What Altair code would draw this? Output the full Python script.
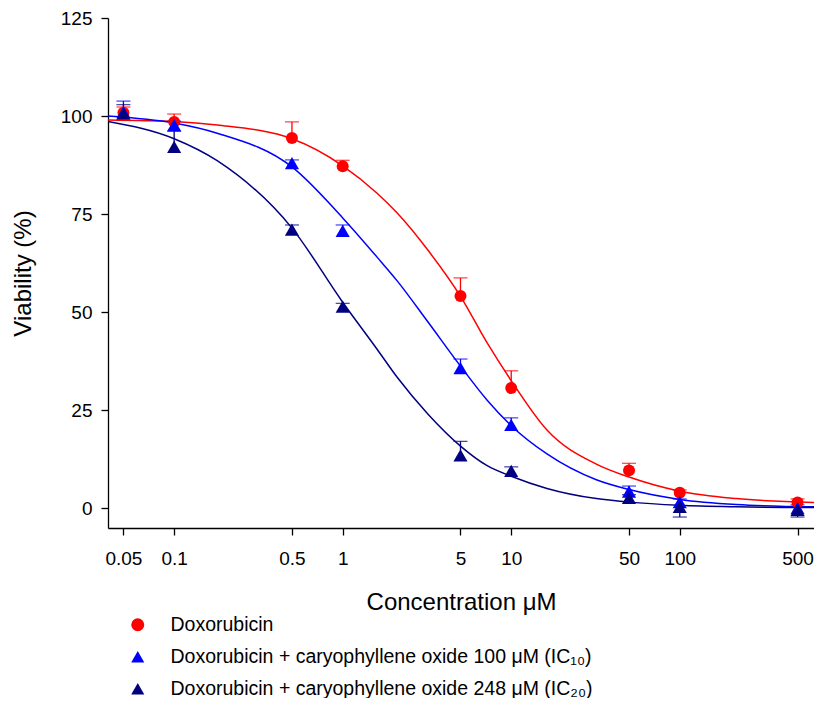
import altair as alt
import pandas as pd

# ---------------- data ----------------
series_names = [
    "Doxorubicin",
    "Doxorubicin + caryophyllene oxide 100 μM (IC₁₀)",
    "Doxorubicin + caryophyllene oxide 248 μM (IC₂₀)",
]

conc = [0.05, 0.1, 0.5, 1, 5, 10, 50, 100, 500]

dox_mean = [100.8, 98.5, 94.4, 87.2, 54.1, 30.6, 9.6, 3.9, 1.4]
dox_err = [1.5, 2.0, 4.1, 1.5, 4.6, 4.4, 1.8, 0.7, 0.9]

ic10_mean = [101.0, 97.7, 88.0, 70.7, 35.7, 21.2, 4.2, 1.5, 0.0]
ic10_err = [2.8, 1.0, 0.8, 1.5, 2.3, 1.8, 1.4, 0.8, 0.8]

ic20_mean = [100.6, 92.1, 71.0, 51.4, 13.4, 9.5, 2.6, 0.3, -0.5]
ic20_err = [2.3, 4.0, 1.2, 0.8, 3.6, 1.0, 0.8, -2.6, -1.8]

# fitted curves at these concentrations
fit_conc = [0.0405, 0.1, 0.18, 0.5, 1, 1.6, 2.1, 3.2, 5, 7.2, 10, 16.3, 32, 50, 100, 217, 626]
dox_fit = [99.0, 98.6, 97.7, 94.2, 87.3, 80.3, 75.3, 65.8, 54.0, 42.1, 32.5, 19.9, 11.2, 7.9, 4.3, 2.4, 1.4]
ic10_fit = [100.0, 98.2, 95.6, 87.0, 74.0, 64.0, 58.0, 47.5, 36.2, 27.5, 21.0, 13.8, 7.2, 4.7, 2.2, 0.9, 0.3]
ic20_fit = [98.6, 94.2, 88.6, 71.4, 52.5, 40.5, 33.4, 24.0, 15.8, 10.8, 8.1, 5.0, 2.4, 1.5, 0.7, 0.3, 0.1]

x_ticks = [0.05, 0.1, 0.5, 1, 5, 10, 50, 100, 500]
y_ticks = [0, 25, 50, 75, 100, 125]

# ---------------- styles ----------------
colors = ["#FF0000", "#0000FF", "#000080"]
shapes = ["circle", "triangle-up", "triangle-up"]
sizes = [144, 200, 200]
FONT = "Liberation Sans"

# ---------------- tables ----------------
means = [dox_mean, ic10_mean, ic20_mean]
errs = [dox_err, ic10_err, ic20_err]
fits = [dox_fit, ic10_fit, ic20_fit]

pt_rows = []
fit_rows = []
for i, name in enumerate(series_names):
    for c, m, e in zip(conc, means[i], errs[i]):
        pt_rows.append({"series": name, "conc": c, "mean": m, "top": m + e,
                        "col": colors[i], "sz": sizes[i], "k": i})
    for c, v in zip(fit_conc, fits[i]):
        fit_rows.append({"series": name, "conc": c, "y": v, "col": colors[i], "k": i})

pts = pd.DataFrame(pt_rows)
fit = pd.DataFrame(fit_rows)

x_scale = alt.Scale(type="log", domain=[0.0405, 626], nice=False)
y_scale = alt.Scale(domain=[-5.1, 125], nice=False, zero=False)

x_axis = alt.Axis(values=x_ticks, labelExpr="'' + datum.value", title="Concentration μM",
                  tickSize=7, labelPadding=14, titlePadding=22, labelFlush=False,
                  labelOverlap=False)
y_axis = alt.Axis(values=y_ticks, title="Viability (%)", tickSize=7, labelPadding=9,
                  titlePadding=25, labelFlush=False, labelOverlap=False)


def X():
    return alt.X("conc:Q", scale=x_scale, axis=x_axis, title="Concentration μM")


def Y(field):
    return alt.Y(field, scale=y_scale, axis=y_axis, title="Viability (%)")


lines = alt.Chart(fit).mark_line(strokeWidth=1.5, interpolate="monotone", clip=True).encode(
    x=X(), y=Y("y:Q"), color=alt.Color("col:N", scale=None), detail="series:N"
)

rules = alt.Chart(pts).mark_rule(strokeWidth=1.3).encode(
    x=X(), y=Y("mean:Q"), y2="top:Q", color=alt.Color("col:N", scale=None)
)

caps = alt.Chart(pts).mark_tick(orient="horizontal", size=14, thickness=1.3).encode(
    x=X(), y=Y("top:Q"), color=alt.Color("col:N", scale=None)
)

legend = alt.Legend(title=None, orient="none", legendX=20, legendY=597, padding=0,
                    labelFontSize=19.5, labelFont=FONT, labelColor="black", labelLimit=800,
                    symbolSize=170, rowPadding=11, labelOffset=23, symbolStrokeWidth=0,
                    symbolOpacity=1)

points = alt.Chart(pts).mark_point(filled=True, opacity=1, fillOpacity=1).encode(
    x=X(), y=Y("mean:Q"),
    color=alt.Color("series:N", scale=alt.Scale(domain=series_names, range=colors), legend=legend),
    shape=alt.Shape("series:N", scale=alt.Scale(domain=series_names, range=shapes), legend=legend),
    size=alt.Size("sz:Q", scale=None),
    order=alt.Order("k:Q"),
)

chart = alt.layer(lines, rules, caps, points).properties(
    width=706, height=510,
    autosize=alt.AutoSizeParams(type="none"),
    padding={"left": 100, "top": 10, "right": 0, "bottom": 170},
).configure_view(stroke=None).configure_axis(
    grid=False, domainColor="black", tickColor="black", labelColor="black", titleColor="black",
    labelFont=FONT, titleFont=FONT, labelFontSize=19, titleFontSize=24,
    titleFontWeight="normal", domainWidth=1.3, tickWidth=1.3,
).configure_legend(symbolOpacity=1).configure_point(opacity=1, filled=True)

chart.save("out.html", embed_options={"renderer": "svg", "actions": False})
